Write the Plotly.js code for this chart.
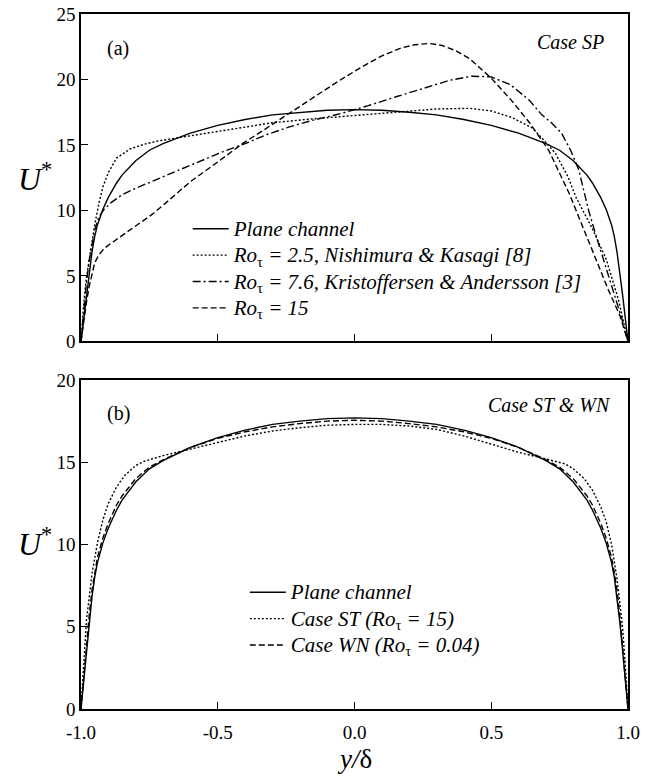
<!DOCTYPE html>
<html>
<head>
<meta charset="utf-8">
<script src="https://cdn.plot.ly/plotly-3.0.1.min.js"></script>
<style>html,body{margin:0;padding:0;background:#fff;}#chart{width:668px;height:776px;}</style>
</head>
<body>
<div id="chart"></div>
<script>
// ---- Panel (a): Case SP ----
const planeX = [-1, -0.99, -0.98, -0.97, -0.96, -0.95, -0.94, -0.92, -0.90, -0.87, -0.85, -0.80, -0.75, -0.70, -0.60, -0.50, -0.40, -0.30, -0.20, -0.10, 0,
  0.10, 0.20, 0.30, 0.40, 0.50, 0.60, 0.70, 0.75, 0.80, 0.85, 0.87, 0.90, 0.92, 0.94, 0.95, 0.96, 0.97, 0.98, 0.99, 1];
const planeU = [0, 1.8, 3.6, 5.3, 6.8, 8.0, 8.9, 10.1, 11.0, 12.1, 12.7, 13.8, 14.6, 15.1, 15.9, 16.5, 16.95, 17.3, 17.5, 17.65, 17.7,
  17.65, 17.5, 17.3, 16.95, 16.5, 15.9, 15.1, 14.6, 13.8, 12.7, 12.1, 11.0, 10.1, 8.9, 8.0, 6.8, 5.3, 3.6, 1.8, 0];

const ro25X = [-1, -0.99, -0.98, -0.97, -0.96, -0.95, -0.934, -0.92, -0.90, -0.87, -0.82, -0.77, -0.72, -0.65, -0.57, -0.45, -0.30, -0.15, 0,
  0.15, 0.30, 0.42, 0.50, 0.575, 0.65, 0.70, 0.735, 0.78, 0.81, 0.87, 0.92, 0.965, 0.985, 1];
const ro25U = [0, 2.9, 4.9, 6.3, 7.6, 8.9, 10.6, 11.8, 12.9, 14.0, 14.7, 15.05, 15.3, 15.55, 15.8, 16.2, 16.7, 17.0, 17.25,
  17.55, 17.75, 17.8, 17.6, 17.1, 16.3, 15.2, 14.35, 12.6, 11.0, 8.6, 6.3, 3.2, 1.5, 0];

const ro76X = [-1, -0.99, -0.98, -0.97, -0.96, -0.95, -0.935, -0.915, -0.89, -0.85, -0.80, -0.72, -0.64, -0.56, -0.48, -0.40, -0.32, -0.235, -0.15, -0.05,
  0.05, 0.155, 0.275, 0.35, 0.43, 0.50, 0.57, 0.64, 0.685, 0.72, 0.757, 0.79, 0.82, 0.856, 0.88, 0.905, 0.93, 0.955, 0.978, 1];
const ro76U = [0, 2.4, 4.5, 6.2, 7.5, 8.5, 9.5, 10.1, 10.6, 11.2, 11.7, 12.4, 13.1, 13.8, 14.5, 15.1, 15.8, 16.4, 16.9, 17.4,
  18.0, 18.7, 19.5, 19.95, 20.25, 20.2, 19.6, 18.4, 17.3, 16.7, 15.9, 14.6, 13.1, 10.0, 8.3, 6.6, 5.0, 3.3, 1.7, 0];

const ro15X = [-1, -0.99, -0.98, -0.97, -0.96, -0.95, -0.935, -0.915, -0.89, -0.86, -0.82, -0.78, -0.74, -0.70, -0.66, -0.60, -0.50, -0.41, -0.32, -0.24, -0.15, -0.057,
  0.03, 0.10, 0.17, 0.22, 0.272, 0.32, 0.37, 0.42, 0.50, 0.57, 0.64, 0.71, 0.785, 0.858, 0.929, 0.97, 1];
const ro15U = [0, 1.6, 3.0, 4.2, 5.2, 6.0, 6.6, 7.1, 7.5, 7.95, 8.5, 9.1, 9.7, 10.4, 11.1, 12.2, 13.7, 15.1, 16.3, 17.4, 18.6, 19.9,
  21.0, 21.8, 22.4, 22.65, 22.75, 22.6, 22.2, 21.6, 20.1, 18.5, 16.7, 14.6, 11.3, 7.5, 3.9, 2.0, 0];

// ---- Panel (b): Case ST & WN ----
const stX = [-1, -0.99, -0.98, -0.96, -0.94, -0.92, -0.90, -0.87, -0.84, -0.80, -0.77, -0.70, -0.60, -0.50, -0.40, -0.30, -0.20, -0.10, 0,
  0.10, 0.20, 0.30, 0.40, 0.50, 0.60, 0.70, 0.77, 0.80, 0.84, 0.87, 0.90, 0.92, 0.94, 0.96, 0.98, 0.99, 1];
const stU = [0, 2.8, 5.4, 8.2, 10.1, 11.5, 12.5, 13.5, 14.2, 14.8, 15.05, 15.4, 15.8, 16.2, 16.6, 16.9, 17.1, 17.25, 17.3,
  17.3, 17.2, 17.0, 16.6, 16.1, 15.6, 15.2, 14.9, 14.6, 14.0, 13.3, 12.3, 11.4, 10.0, 7.9, 5.0, 2.7, 0];

const wnX = [-1, -0.99, -0.98, -0.97, -0.96, -0.95, -0.94, -0.92, -0.90, -0.87, -0.85, -0.80, -0.75, -0.70, -0.60, -0.50, -0.40, -0.30, -0.20, -0.10, 0,
  0.10, 0.20, 0.30, 0.40, 0.50, 0.60, 0.70, 0.75, 0.80, 0.85, 0.87, 0.90, 0.92, 0.94, 0.95, 0.96, 0.97, 0.98, 0.99, 1];
const wnU = [0, 2.0, 3.9, 5.7, 7.2, 8.3, 9.2, 10.4, 11.3, 12.4, 12.95, 14.0, 14.7, 15.15, 15.9, 16.45, 16.85, 17.15, 17.35, 17.5, 17.55,
  17.5, 17.35, 17.15, 16.85, 16.45, 15.9, 15.15, 14.7, 14.0, 12.95, 12.4, 11.3, 10.4, 9.2, 8.3, 7.2, 5.7, 3.9, 2.0, 0];

const xTickVals = [-1, -0.5, 0, 0.5, 1];
const xTickText = ['-1.0', '-0.5', '0.0', '0.5', '1.0'];
const yTicksA = [0, 5, 10, 15, 20, 25];
const yTicksB = [0, 5, 10, 15, 20];

const namesA = ['<i>Plane channel</i>',
  '<i>Ro</i><sub>τ</sub><i> = 2.5, Nishimura &amp; Kasagi [8]</i>',
  '<i>Ro</i><sub>τ</sub><i> = 7.6, Kristoffersen &amp; Andersson [3]</i>',
  '<i>Ro</i><sub>τ</sub><i> = 15</i>'];
const namesB = ['<i>Plane channel</i>',
  '<i>Case ST (Ro</i><sub>τ</sub><i> = 15)</i>',
  '<i>Case WN (Ro</i><sub>τ</sub><i> = 0.04)</i>'];

const SERIF = '"Liberation Serif", "Times New Roman", serif';
const lw = 1.4;
const big = s => '<span style="font-size:21px">' + s + '</span>';

const traces = [
  {x: planeX, y: planeU, name: big(namesA[0]), xaxis: 'x', yaxis: 'y', legend: 'legend',
   mode: 'lines', line: {color: '#000', width: lw, dash: 'solid'}},
  {x: ro25X, y: ro25U, name: big(namesA[1]), xaxis: 'x', yaxis: 'y', legend: 'legend',
   mode: 'lines', line: {color: '#000', width: lw, dash: '2px,2px'}},
  {x: ro76X, y: ro76U, name: big(namesA[2]), xaxis: 'x', yaxis: 'y', legend: 'legend',
   mode: 'lines', line: {color: '#000', width: lw, dash: '8px,3px,2px,3px'}},
  {x: ro15X, y: ro15U, name: big(namesA[3]), xaxis: 'x', yaxis: 'y', legend: 'legend',
   mode: 'lines', line: {color: '#000', width: lw, dash: '6px,3px'}},
  {x: planeX, y: planeU, name: big(namesB[0]), xaxis: 'x2', yaxis: 'y2', legend: 'legend2',
   mode: 'lines', line: {color: '#000', width: lw, dash: 'solid'}},
  {x: stX, y: stU, name: big(namesB[1]), xaxis: 'x2', yaxis: 'y2', legend: 'legend2',
   mode: 'lines', line: {color: '#000', width: lw, dash: '2px,2px'}},
  {x: wnX, y: wnU, name: big(namesB[2]), xaxis: 'x2', yaxis: 'y2', legend: 'legend2',
   mode: 'lines', line: {color: '#000', width: lw, dash: '6px,3px'}}
];

const axisCommon = {
  showline: true, linecolor: '#000', linewidth: 1.8, mirror: true,
  ticks: 'inside', ticklen: 7, tickwidth: 1, tickcolor: '#000',
  showgrid: false, zeroline: false,
  tickfont: {family: SERIF, size: 19, color: '#000'}
};

const legendCommon = {
  font: {family: SERIF, size: 18, color: '#000'},
  bgcolor: 'rgba(0,0,0,0)', borderwidth: 0,
  xanchor: 'left', yanchor: 'top', itemwidth: 36, tracegroupgap: 0,
  itemclick: false, itemdoubleclick: false
};

const layout = {
  width: 668, height: 776,
  margin: {l: 81, r: 40, t: 14, b: 67},
  paper_bgcolor: '#fff', plot_bgcolor: '#fff',
  showlegend: true,
  xaxis: Object.assign({}, axisCommon, {domain: [0, 1], range: [-1, 1], tickvals: xTickVals, ticktext: xTickText, showticklabels: false, anchor: 'y'}),
  yaxis: Object.assign({}, axisCommon, {domain: [0.5288, 1], range: [0, 25], tickvals: yTicksA, anchor: 'x'}),
  xaxis2: Object.assign({}, axisCommon, {domain: [0, 1], range: [-1, 1], tickvals: xTickVals, ticktext: xTickText, anchor: 'y2', ticklabelstandoff: 5}),
  yaxis2: Object.assign({}, axisCommon, {domain: [0, 0.4734], range: [0, 20], tickvals: yTicksB, anchor: 'x2'}),
  legend: Object.assign({}, legendCommon, {x: 0.195, y: 0.7173}),
  legend2: Object.assign({}, legendCommon, {x: 0.2995, y: 0.1942}),
  annotations: [
    {xref: 'paper', yref: 'paper', x: 0.068, y: 0.951, text: '(a)', showarrow: false, xanchor: 'center', yanchor: 'middle',
     font: {family: SERIF, size: 20, color: '#000'}},
    {xref: 'paper', yref: 'paper', x: 0.959, y: 0.9597, text: '<i>Case SP</i>', showarrow: false, xanchor: 'right', yanchor: 'middle',
     font: {family: SERIF, size: 20, color: '#000'}},
    {xref: 'paper', yref: 'paper', x: 0.068, y: 0.4256, text: '(b)', showarrow: false, xanchor: 'center', yanchor: 'middle',
     font: {family: SERIF, size: 20, color: '#000'}},
    {xref: 'paper', yref: 'paper', x: 0.9717, y: 0.4374, text: '<i>Case ST &amp; WN</i>', showarrow: false, xanchor: 'right', yanchor: 'middle',
     font: {family: SERIF, size: 20, color: '#000'}},
    {xref: 'paper', yref: 'paper', x: -0.085, y: 0.765, text: '<i>U</i><sup>*</sup>', showarrow: false, xanchor: 'center', yanchor: 'middle',
     font: {family: SERIF, size: 32, color: '#000'}},
    {xref: 'paper', yref: 'paper', x: -0.085, y: 0.24, text: '<i>U</i><sup>*</sup>', showarrow: false, xanchor: 'center', yanchor: 'middle',
     font: {family: SERIF, size: 32, color: '#000'}},
    {xref: 'paper', yref: 'paper', x: 0.5, y: -0.072, text: '<i>y/</i>δ', showarrow: false, xanchor: 'center', yanchor: 'middle',
     font: {family: SERIF, size: 27, color: '#000'}}
  ]
};

Plotly.newPlot('chart', traces, layout, {displayModeBar: false, staticPlot: true});
</script>
</body>
</html>
